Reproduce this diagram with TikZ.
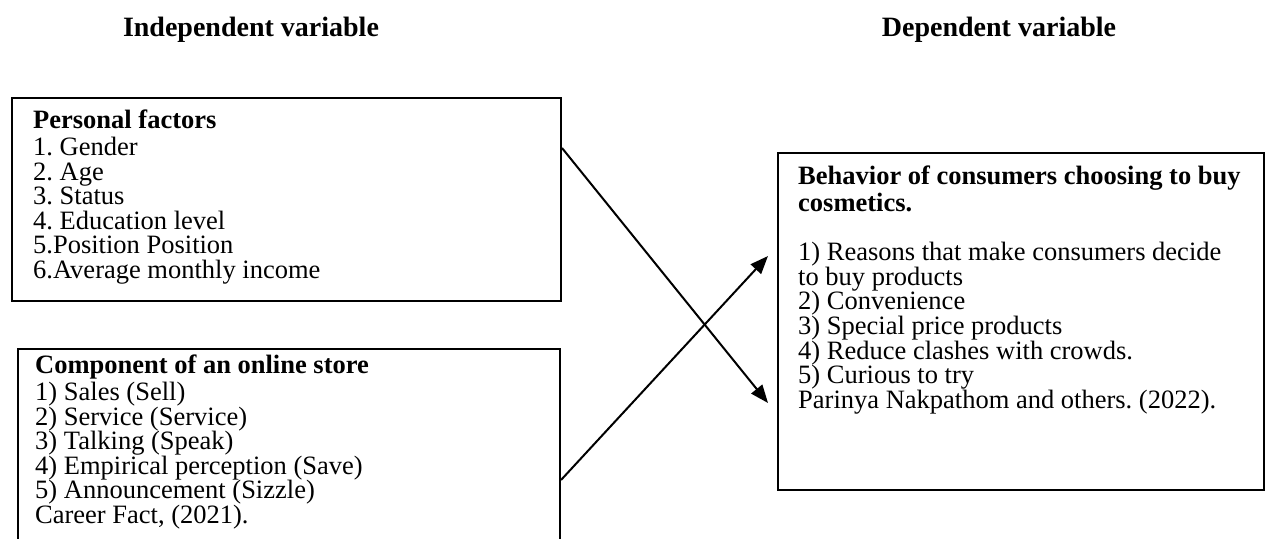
\documentclass[tikz,border=0pt]{standalone}
\usepackage{fontspec}
\setmainfont{Liberation Serif}
\usetikzlibrary{arrows.meta}
\frenchspacing

\begin{document}
\begin{tikzpicture}[x=1pt,y=-1pt,
	box/.style={draw,line width=2pt,inner sep=0pt,anchor=north west},
	txt/.style={anchor=north west,align=left,inner sep=0pt,font=\fontsize{26.5}{24.6}\selectfont},
	head/.style={anchor=base,inner sep=0pt,font=\fontsize{28}{30}\selectfont\bfseries},
	arr/.style={line width=2pt,-{Triangle[length=18pt,width=14pt]}}]
	\useasboundingbox (0,0) rectangle (1266,538);
	\clip (0,0) rectangle (1266,538);
	\node[head] (indep) at (251,36) {Independent variable};
	\node[head] (depen) at (999,36) {Dependent variable};
	\node[box,minimum width=549pt,minimum height=203pt] (pers) at (11,97) {};
	\node[box,minimum width=542pt,minimum height=240pt] (comp) at (17,348) {};
	\node[box,minimum width=486pt,minimum height=337pt] (beh) at (777,152) {};
	\node[txt] (perstext) at (33,109.8) {\strut\textbf{Personal factors}\\1. Gender\\2. Age\\3. Status\\4. Education level\\5.Position Position\\6.Average monthly income};
	\node[txt] (comptext) at (35,354.8) {\strut\textbf{Component of an online store}\\1) Sales (Sell)\\2) Service (Service)\\3) Talking (Speak)\\4) Empirical perception (Save)\\5) Announcement (Sizzle)\\Career Fact, (2021).};
	\node[txt] (behtext) at (798,165.8) {\strut\textbf{Behavior of consumers choosing to buy}\\\textbf{cosmetics.}\\[24.6pt]1) Reasons that make consumers decide\\to buy products\\2) Convenience\\3) Special price products\\4) Reduce clashes with crowds.\\5) Curious to try\\Parinya Nakpathom and others. (2022).};
	\draw[arr] ([yshift=-51pt]pers.north east) -- ([xshift=-9pt,yshift=-251pt]beh.north west);
	\draw[arr] ([yshift=-132pt]comp.north east) -- ([xshift=-9pt,yshift=-104pt]beh.north west);
\end{tikzpicture}
\end{document}
